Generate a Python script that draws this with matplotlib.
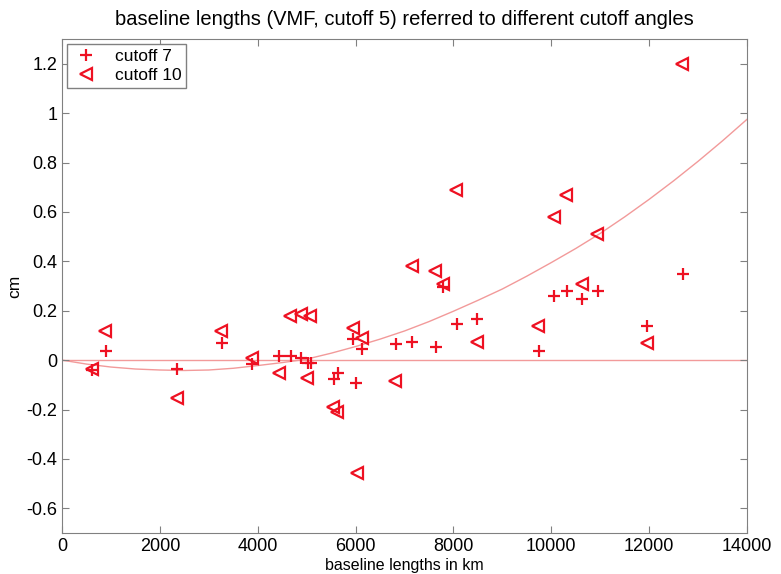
import matplotlib
matplotlib.use("Agg")
import matplotlib.pyplot as plt
import numpy as np

plt.rcParams['font.family'] = ['Liberation Sans', 'DejaVu Sans']

# cutoff 7 (plus markers)
x_c7 = [610, 900, 2350, 3270, 3880, 4440, 4680, 4880, 5020, 5090, 5560, 5640,
        5950, 6010, 6130, 6830, 7150, 7640, 7790, 8070, 8480, 9750, 10060,
        10320, 10630, 10950, 11960, 12700]
y_c7 = [-0.04, 0.037, -0.035, 0.068, -0.015, 0.017, 0.017, 0.008, -0.012, -0.012,
        -0.075, -0.053, 0.085, -0.092, 0.045, 0.065, 0.073, 0.053, 0.298, 0.146,
        0.166, 0.035, 0.258, 0.278, 0.248, 0.278, 0.138, 0.35]

# cutoff 10 (left triangles)
x_c10 = [620, 880, 2350, 3250, 3880, 4440, 4660, 4880, 5000, 5070, 5540, 5620,
         5950, 6030, 6130, 6810, 7150, 7620, 7790, 8050, 8480, 9730, 10060,
         10300, 10630, 10930, 11960, 12670]
y_c10 = [-0.035, 0.118, -0.152, 0.118, 0.01, -0.052, 0.178, 0.187, -0.072, 0.178,
         -0.19, -0.21, 0.13, -0.455, 0.09, -0.083, 0.38, 0.36, 0.31, 0.69,
         0.075, 0.137, 0.58, 0.67, 0.31, 0.51, 0.07, 1.2]

# fitted curve
x_fit = [0, 500, 1000, 1500, 2000, 2500, 3000, 3500, 4000, 4500, 5000, 5500,
         6000, 6500, 7000, 7500, 8000, 8500, 9000, 9500, 10000, 10500, 11000,
         11500, 12000, 12500, 13000, 13500, 14000]
y_fit = [0, -0.016, -0.028, -0.036, -0.04, -0.042, -0.04, -0.033, -0.022,
         -0.01, 0.004, 0.028, 0.055, 0.085, 0.118, 0.156, 0.198, 0.242, 0.288,
         0.34, 0.395, 0.452, 0.513, 0.58, 0.651, 0.726, 0.805, 0.888, 0.975]

fig = plt.figure(figsize=(7.81, 5.74), dpi=100)
ax = fig.add_axes([0.0794, 0.0714, 0.8771, 0.8606])

ax.axhline(0, color='#f29a9a', lw=1, zorder=1)
ax.plot(x_fit, y_fit, color='#f29a9a', lw=1, zorder=1)
ax.plot(x_c7, y_c7, '+', color='#ee1122', ms=9, mew=1.6, label='cutoff 7')
ax.plot(x_c10, y_c10, '<', color='#ee1122', mfc='none', ms=8, mew=1.6,
        label='cutoff 10')

ax.set_xlim(0, 14000)
ax.set_ylim(-0.7, 1.3)
ax.set_xticks(np.arange(0, 14001, 2000))
ax.set_yticks(np.arange(-0.6, 1.21, 0.2))
ax.set_yticklabels(['-0.6', '-0.4', '-0.2', '0', '0.2', '0.4', '0.6', '0.8', '1', '1.2'])

for s in ax.spines.values():
    s.set_color('#808080')
ax.tick_params(direction='in', length=5, color='#808080', labelsize=13,
               top=True, right=True)

ax.set_title('baseline lengths (VMF, cutoff 5) referred to different cutoff angles',
             fontsize=14.5, pad=10)
ax.set_xlabel('baseline lengths in km', fontsize=11.5, labelpad=2)
ax.set_ylabel('cm', fontsize=12.5)
ax.yaxis.set_label_coords(-0.058, 0.5)

leg = ax.legend(loc='upper left', fontsize=12.5, fancybox=False, framealpha=1,
                edgecolor='#808080', borderaxespad=0.3, handlelength=1.7,
                borderpad=0.25, labelspacing=0.25)
leg.get_frame().set_linewidth(1)

fig.savefig('out.png', dpi=100)
